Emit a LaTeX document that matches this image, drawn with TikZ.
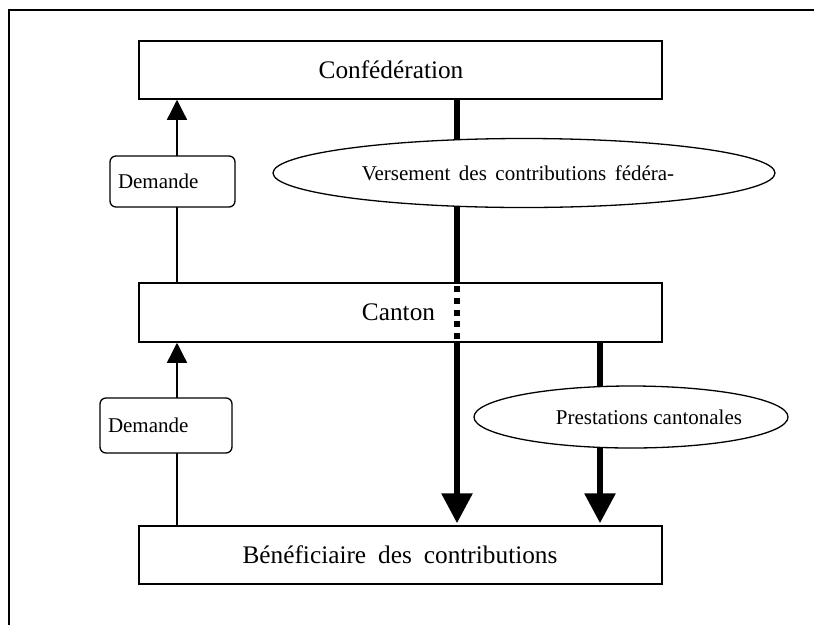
\documentclass[tikz,border=0pt]{standalone}
\usepackage{fontspec}
\setmainfont{Liberation Serif}
\usetikzlibrary{shapes.geometric,arrows.meta,backgrounds,calc}
\begin{document}
\begin{tikzpicture}[x=1pt,y=-1pt,
  bigbox/.style={draw, line width=1.5pt, fill=white, minimum width=523pt, minimum height=58pt, inner sep=0pt, font=\fontsize{25.3}{30}\selectfont},
  reqbox/.style={draw, rounded corners=6pt, line width=1.3pt, fill=white, inner xsep=8pt, inner ysep=0pt, align=left, font=\fontsize{21}{25}\selectfont},
  oval/.style={draw, ellipse, line width=1.3pt, fill=white, inner sep=0pt, font=\fontsize{21}{25}\selectfont},
  flow/.style={line width=6pt},
  flowarrow/.style={line width=6pt, -{Triangle[width=30pt,length=30pt]}},
  reqarrow/.style={line width=1.3pt, -{Triangle[width=20pt,length=20pt]}}
]
\useasboundingbox (0,0) rectangle (814,625);
% frame
\draw[line width=1.5pt] (9,625) -- (9,10) -- (814,10);

% main boxes
\node[bigbox] (conf) at (400.5,70) {\hspace*{-19pt}Confédération};
\node[bigbox, minimum height=59pt] (canton) at (400.5,312.5) {\hspace*{-4pt}Canton};
\node[bigbox] (benef) at (400.5,555) {\hspace*{-1pt}Bénéficiaire\hspace{12pt}des\hspace{12pt}contributions};

% ovals
\node[oval, minimum width=502pt, minimum height=69pt] (vers) at (524,173) {\hspace*{-12pt}Versement\hspace{8.5pt}des\hspace{8.5pt}contributions\hspace{8.5pt}fédéra-};
\node[oval, minimum width=278pt, minimum height=62pt] (prest) at (631,417) {\hspace*{36pt}Prestations cantonales};

% request boxes
\node[reqbox, minimum height=51pt, text width=109pt] (dem1) at (172.5,181.5) {Demande};
\node[reqbox, minimum height=55pt, text width=116pt] (dem2) at (166,425.5) {Demande};

% connector x positions
\coordinate (xa) at (177,0);
\coordinate (xf) at (457,0);
\coordinate (xp) at (600,0);

\begin{pgfonlayer}{background}
  \draw[reqarrow] (xa |- canton.north) -- (xa |- conf.south);
  \draw[reqarrow] (xa |- benef.north) -- (xa |- canton.south);
  \draw[flowarrow, shorten >=2pt] (xf |- conf.south) -- (xf |- benef.north);
  \draw[flowarrow, shorten >=2pt] (xp |- canton.south) -- (xp |- benef.north);
\end{pgfonlayer}

% dotted passage through the canton box
\draw[flow, dash pattern=on 6pt off 5.7pt] ($(xf |- canton.north)+(0,4)$) -- (xf |- canton.south);
\end{tikzpicture}
\end{document}
